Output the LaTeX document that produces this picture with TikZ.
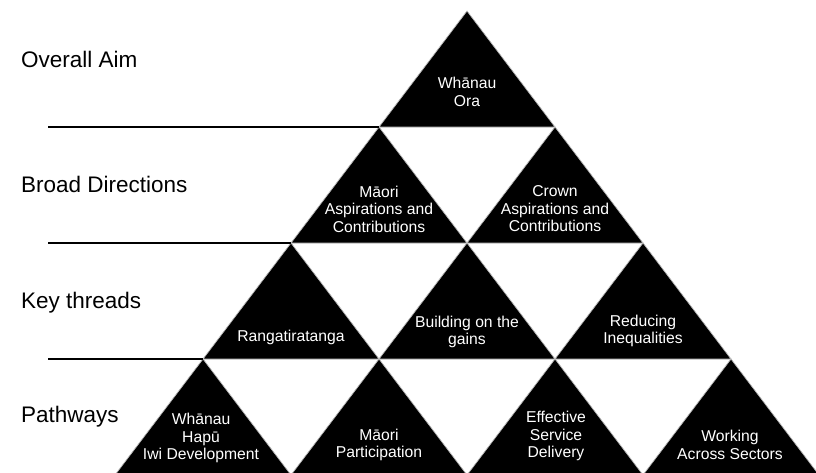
\documentclass[tikz,border=0pt]{standalone}
\usepackage{fontspec}
\setmainfont{Liberation Sans}
\begin{document}
\begin{tikzpicture}[x=1pt,y=-1pt,
  tri/.style={fill=black,draw=gray!55,line width=0.7pt,line join=miter},
  rowlabel/.style={anchor=base west,inner sep=0pt,font=\fontsize{22.5}{26}\selectfont},
  trilabel/.style={text=white,align=center,inner sep=0pt,font=\fontsize{15.7}{17.5}\selectfont},
  rule/.style={line width=1.4pt,draw=black}]
\useasboundingbox (0,0) rectangle (816,472);
\fill[white] (0,0) rectangle (816,472);
\begin{scope}
\clip (0,0) rectangle (816,472);
% triangles: apex (x,y), half width 88, height 116
\foreach \x/\y in {467/11,
                   379/127, 555/127,
                   291/243, 467/243, 643/243,
                   203/359, 379/359, 555/359, 731/359}
  \draw[tri] (\x,\y) -- (\x+88,\y+116) -- (\x-88,\y+116) -- cycle;
\end{scope}
% row separators
\coordinate (l1) at (48,127);  \coordinate (r1) at (379,127);
\coordinate (l2) at (48,243);  \coordinate (r2) at (291,243);
\coordinate (l3) at (48,359);  \coordinate (r3) at (203,359);
\draw[rule] (l1) -- (r1);
\draw[rule] (l2) -- (r2);
\draw[rule] (l3) -- (r3);
% row labels
\node[rowlabel] (aim) at (21,67) {Overall Aim};
\node[rowlabel] (dir) at (21,192) {Broad Directions};
\node[rowlabel] (thr) at (21,308) {Key threads};
\node[rowlabel] (pth) at (21,422) {Pathways};
% triangle labels
\node[trilabel] (ora) at (467,92) {Whānau\\Ora};
\node[trilabel] (maori) at (379,209) {Māori\\Aspirations and\\Contributions};
\node[trilabel] (crown) at (555,209) {Crown\\Aspirations and\\Contributions};
\node[trilabel] (ranga) at (291,337) {Rangatiratanga};
\node[trilabel] (build) at (467,332) {Building on the\\gains};
\node[trilabel] (reduce) at (643,331) {Reducing\\Inequalities};
\node[trilabel] (whanau) at (201,438) {Whānau\\Hapū\\Iwi Development};
\node[trilabel] (part) at (379,445) {Māori\\Participation};
\node[trilabel] (eff) at (556,436) {Effective\\Service\\Delivery};
\node[trilabel] (work) at (730,445) {Working\\Across Sectors};
\end{tikzpicture}
\end{document}
